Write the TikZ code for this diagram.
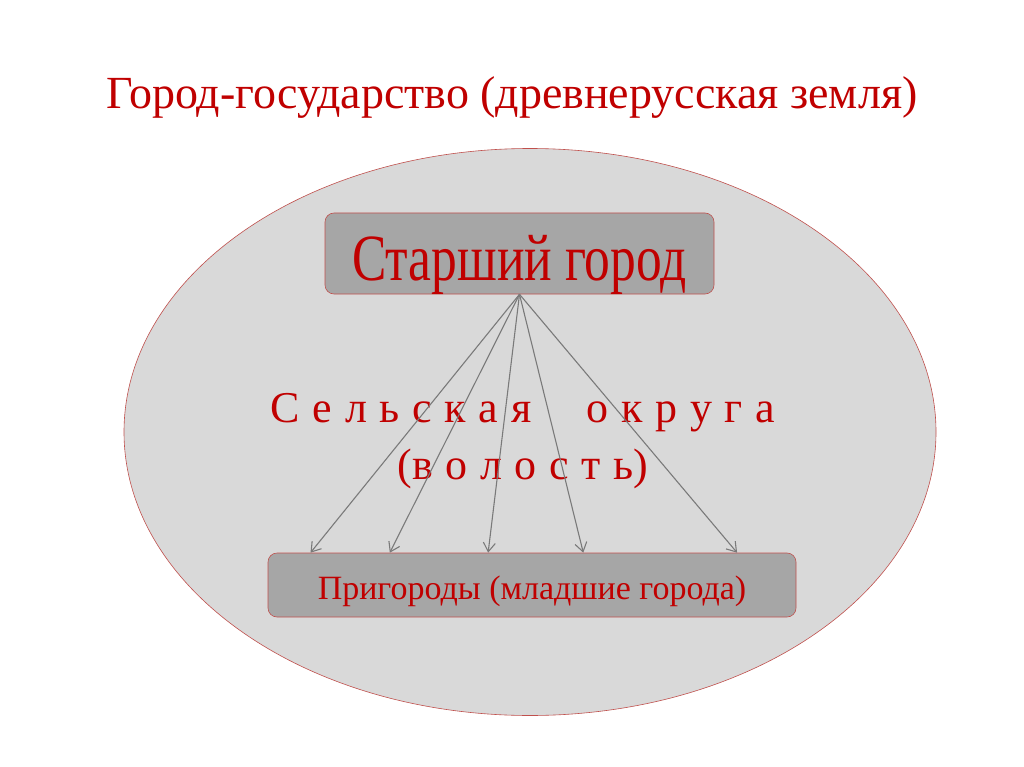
\documentclass[tikz,border=0pt]{standalone}
\usepackage{fontspec}
\setmainfont{Liberation Serif}
\newfontfamily\narrowserif{Liberation Serif}[FakeStretch=0.78]
\usetikzlibrary{arrows.meta, calc, shapes.geometric}
\definecolor{slidered}{HTML}{C00000}
\definecolor{ovalfill}{HTML}{D9D9D9}
\definecolor{boxfill}{HTML}{A6A6A6}
\definecolor{edgered}{HTML}{C0504D}
\definecolor{arrowgray}{HTML}{7A7A7A}
\newcommand{\widespacing}{\spaceskip=12.7pt\relax}

\begin{document}
\begin{tikzpicture}[x=1pt, y=1pt,
    oval/.style={ellipse, draw=edgered, fill=ovalfill, line width=0.6pt, inner sep=0pt, minimum width=812pt, minimum height=567pt},
    box/.style={rectangle, draw=edgered, fill=boxfill, rounded corners=9pt, line width=0.6pt, text=slidered, inner xsep=0pt, inner ysep=0pt},
    arrow/.style={-{Straight Barb[length=9pt, width=12pt]}, draw=arrowgray, line width=1.1pt}
]
\useasboundingbox[fill=white] (0,0) rectangle (1024,-767);

% Title
\node[text=slidered, font=\fontsize{46}{50}\selectfont, anchor=base] (title) at (512,-109) {Город-государство (древнерусская земля)};

% Nodes
\node[oval] (land) at (530,-432) {};
\node[box, minimum width=389pt, text height=67pt, text depth=14pt, font=\narrowserif\fontsize{66}{70}\selectfont] (senior) at (519.5,-253.5) {Старший город};
\node[box, minimum width=528pt, text height=46pt, text depth=18pt, font=\fontsize{34}{38}\selectfont] (suburbs) at (532,-585) {Пригороды (младшие города)};
\node[text=slidered, align=center, font=\fontsize{44}{57}\selectfont\widespacing] (volost) at (523,-441) {С е л ь с к а я \hspace{30pt} о к р у г а\\(в о л о с т ь)};

% Connections
\foreach \f in {0.081, 0.231, 0.417, 0.597, 0.888}
    \draw[arrow] (senior.south) -- ($(suburbs.north west)!\f!(suburbs.north east)$);

\end{tikzpicture}
\end{document}
